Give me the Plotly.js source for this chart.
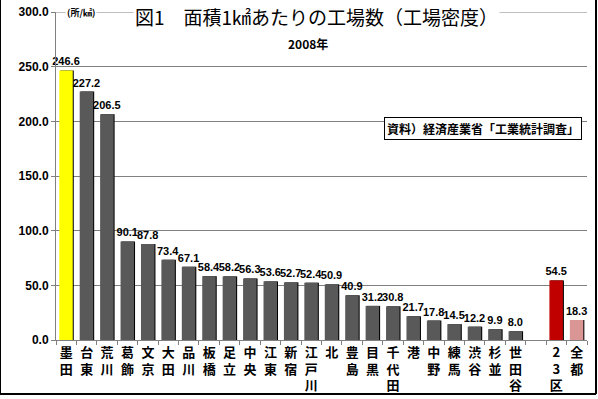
<!DOCTYPE html>
<html>
<head>
<meta charset="utf-8">
<script src="https://cdn.plot.ly/plotly-3.0.1.min.js"></script>
<style>html,body{margin:0;padding:0;background:#fff;}#chart{width:598px;height:399px;}</style>
</head>
<body>
<div id="chart"></div>
<script>
const wards = ["墨田","台東","荒川","葛飾","文京","大田","品川","板橋","足立","中央","江東","新宿","江戸川","北","豊島","目黒","千代田","港","中野","練馬","渋谷","杉並","世田谷"," ","23区","全都"];
const density = [246.6,227.2,206.5,90.1,87.8,73.4,67.1,58.4,58.2,56.3,53.6,52.7,52.4,50.9,40.9,31.2,30.8,21.7,17.8,14.5,12.2,9.9,8.0,null,54.5,18.3];
const barColors = ["#FFFF00","#595959","#595959","#595959","#595959","#595959","#595959","#595959","#595959","#595959","#595959","#595959","#595959","#595959","#595959","#595959","#595959","#595959","#595959","#595959","#595959","#595959","#595959","#595959","#C00000","#DA9694"];
const titleText = "図1　面積1㎢あたりの工場数（工場密度）";
const subtitleText = "2008年";
const unitText = "(所/㎢)";
const sourceText = "資料）経済産業省「工業統計調査」";

// vertical tick labels: one character per line
const cats = wards.map(w => w === " " ? " " : w.split("").join("<br>"));
const labels = density.map(v => v === null ? "" : v.toFixed(1));

const labelFont = {family: "Arial, Liberation Sans", size: 11, color: "#000000", weight: "bold"};

const shadow = {
  type: "bar", x: cats, y: density, width: 0.66, offset: -0.29,
  marker: {color: "#000000"}, hoverinfo: "skip", showlegend: false
};
const main = {
  type: "bar", x: cats, y: density, width: 0.66, offset: -0.34,
  marker: {color: barColors},
  text: labels, textposition: "outside", cliponaxis: false, constraintext: "none",
  textfont: labelFont, outsidetextfont: labelFont, insidetextfont: labelFont,
  showlegend: false
};

const layout = {
  width: 598, height: 399,
  margin: {l: 56, r: 11, t: 12, b: 59},
  paper_bgcolor: "#fff", plot_bgcolor: "#fff",
  barmode: "overlay",
  showlegend: false,
  xaxis: {
    type: "category", categoryorder: "array", categoryarray: cats,
    range: [-0.5, 25.5], tickangle: 0,
    showline: true, linecolor: "#808080", linewidth: 1,
    ticks: "outside", tickson: "boundaries", ticklen: 4, tickcolor: "#808080",
    tickfont: {family: "Noto Sans CJK JP", size: 13, color: "#000", weight: "bold"},
    showgrid: false, fixedrange: true
  },
  yaxis: {
    range: [0, 300], dtick: 50, tickformat: ".1f",
    showline: true, linecolor: "#808080", linewidth: 1,
    ticks: "outside", ticklen: 4, tickcolor: "#808080",
    gridcolor: "#808080", gridwidth: 1, zeroline: false,
    tickfont: {family: "Arial, Liberation Sans", size: 12, color: "#000", weight: "bold"},
    fixedrange: true
  },
  annotations: [
    {text: titleText, xref: "paper", yref: "paper", x: 0.49, y: 1 - 4/328, xanchor: "center", yanchor: "middle",
     showarrow: false, bgcolor: "#fff", borderpad: 1,
     font: {family: "Noto Sans CJK JP", size: 19, color: "#000"}},
    {text: unitText, xref: "paper", yref: "paper", x: 0.017, y: 1.0, xanchor: "left", yanchor: "middle",
     showarrow: false, bgcolor: "#fff", borderpad: 1,
     font: {family: "Noto Sans CJK JP", size: 9, color: "#000", weight: "bold"}},
    {text: subtitleText, xref: "paper", yref: "paper", x: 0.475, y: 0.905, xanchor: "center", yanchor: "middle",
     showarrow: false,
     font: {family: "Noto Sans CJK JP", size: 12, color: "#000", weight: "bold"}},
    {text: sourceText, xref: "paper", yref: "paper", x: 0.99, y: 0.645, xanchor: "right", yanchor: "middle",
     showarrow: false, bgcolor: "#fff", bordercolor: "#000", borderwidth: 1, borderpad: 2,
     font: {family: "Noto Sans CJK JP", size: 12, color: "#000", weight: "bold"}}
  ],
  shapes: [
    {type: "line", xref: "paper", yref: "y", x0: 0, x1: 1, y0: 300, y1: 300, line: {color: "#808080", width: 1}, layer: "below"},
    {type: "line", xref: "paper", yref: "paper", x0: -56/531, x1: -56/531, y0: -54/328, y1: 12/328 + 1, line: {color: "#000", width: 2}},
    {type: "line", xref: "paper", yref: "paper", x0: 1 + 9/531, x1: 1 + 9/531, y0: -54/328, y1: 12/328 + 1, line: {color: "#000", width: 2}},
    {type: "line", xref: "paper", yref: "paper", x0: -56/531, x1: 1 + 9/531, y0: -54/328, y1: -54/328, line: {color: "#000", width: 2}}
  ]
};

Plotly.newPlot("chart", [shadow, main], layout, {displayModeBar: false, staticPlot: true});
</script>
</body>
</html>
